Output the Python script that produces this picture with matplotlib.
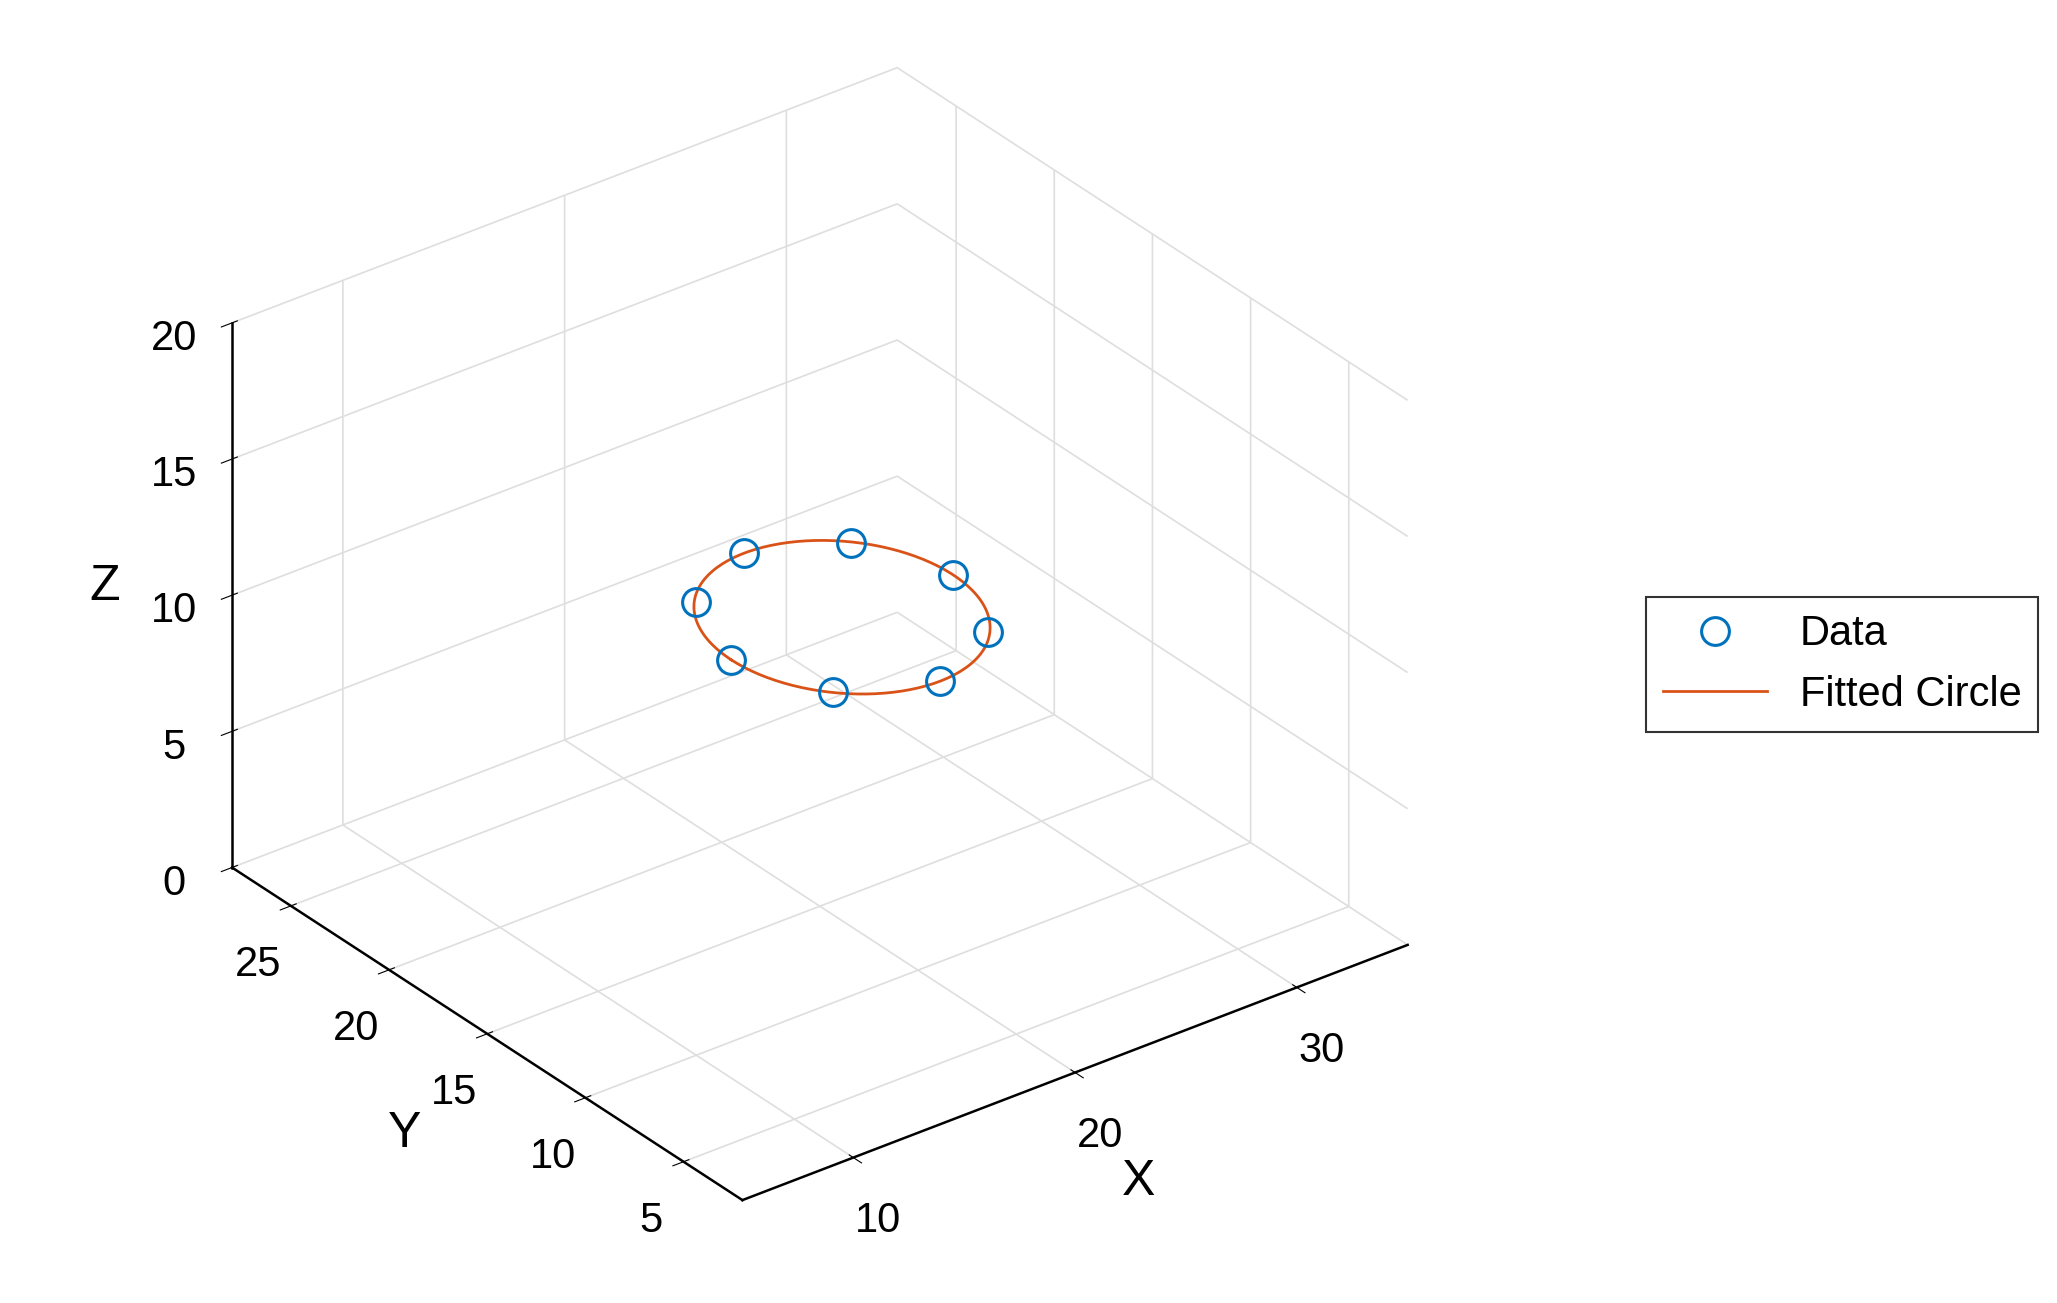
import matplotlib
matplotlib.use("Agg")
import matplotlib.pyplot as plt
import numpy as np

data_x = [26.0, 24.5, 21.0, 17.5, 16.0, 17.5, 21.0, 24.5]
data_y = [15.0, 18.5, 20.0, 18.5, 15.0, 11.5, 10.0, 11.5]
data_z = [10.3, 10.3, 10.3, 10.3, 10.3, 10.3, 10.3, 10.3]

# fitted circle parameters
center = [21.0, 15.0, 10.3]
radius = 5.0
normal = [0.0, 0.0, 1.0]

x_ticks = [10, 20, 30]
y_ticks = [5, 10, 15, 20, 25]
z_ticks = [0, 5, 10, 15, 20]

plt.rcParams["font.family"] = ["Liberation Sans", "DejaVu Sans"]

fig = plt.figure(figsize=(20.57, 13.03), dpi=100)
ax = fig.add_axes([0.0, 0.0, 0.78, 1.0], projection="3d", proj_type="ortho")

n = np.array(normal) / np.linalg.norm(normal)
u = np.cross(n, [0, 1, 0]); u /= np.linalg.norm(u)
v = np.cross(n, u)
t = np.linspace(0, 2 * np.pi, 200)
circ = np.array(center)[:, None] + radius * (np.outer(u, np.cos(t)) + np.outer(v, np.sin(t)))

ax.plot(circ[0], circ[1], circ[2], color="#D95319", lw=2, label="Fitted Circle")
ax.plot(data_x, data_y, data_z, "o", ls="none", mfc="none", mec="#0072BD",
        mew=2.2, ms=20, label="Data")

ax.set_xlim(5, 35)
ax.set_ylim(2, 28)
ax.set_zlim(0, 20)
ax.set_xticks(x_ticks)
ax.set_yticks(y_ticks)
ax.set_zticks(z_ticks)
ax.set_box_aspect((1, 1, 0.75))
ax.view_init(elev=30, azim=-127.5)

for axis in (ax.xaxis, ax.yaxis, ax.zaxis):
    axis.set_pane_color((1, 1, 1, 0))
    axis._axinfo["grid"]["color"] = (0.87, 0.87, 0.87, 1)
    axis._axinfo["grid"]["linewidth"] = 1.2
    axis.line.set_color("black")
    axis.line.set_linewidth(1.8)
ax.tick_params(labelsize=30, pad=16)
ax.set_xlabel("X", fontsize=36, labelpad=40)
ax.set_ylabel("Y", fontsize=36, labelpad=40)
ax.set_zlabel("Z", fontsize=36, labelpad=32)

handles, labels = ax.get_legend_handles_labels()
leg = fig.legend(handles[::-1], labels[::-1], loc="center left",
                 bbox_to_anchor=(0.79, 0.49), fontsize=30,
                 frameon=True, fancybox=False, edgecolor="black", handlelength=2.5)
leg.get_frame().set_linewidth(1.5)

fig.savefig("out.png", dpi=100)
